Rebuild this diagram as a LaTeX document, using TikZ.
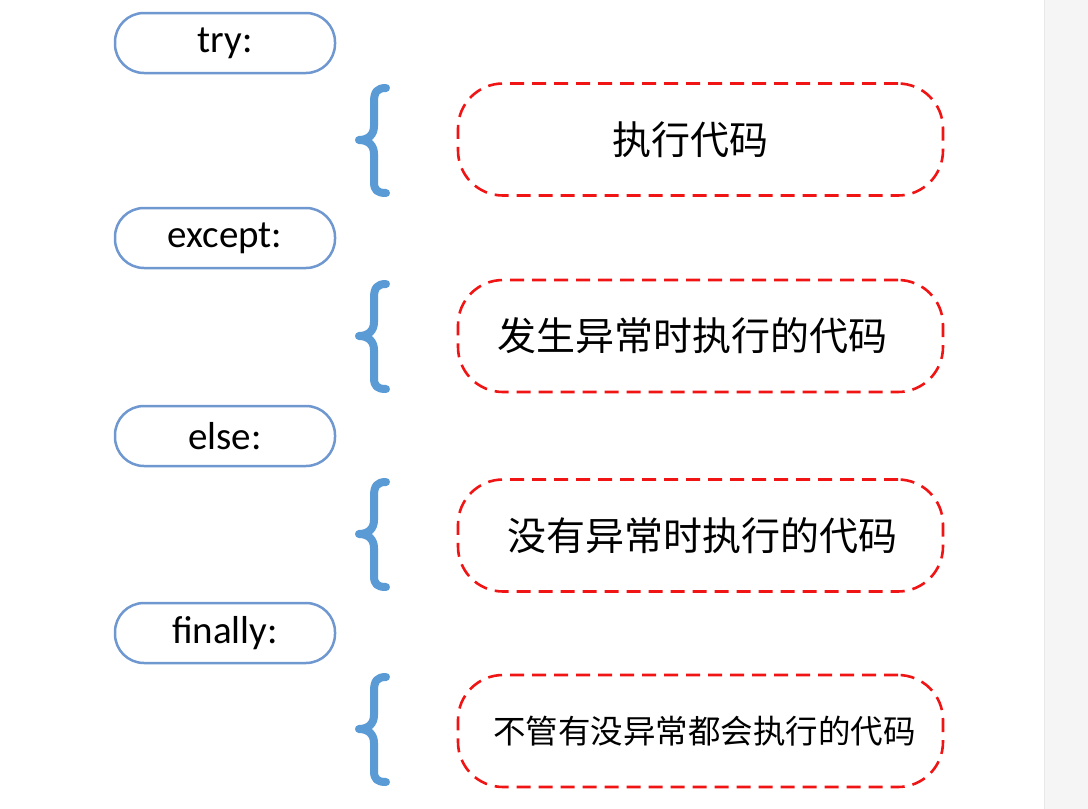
\documentclass[tikz,border=0pt]{standalone}
\usepackage{fontspec}
\setmainfont{Carlito}
\newfontfamily\cjk{Noto Sans CJK SC}
\definecolor{pillblue}{RGB}{112,152,208}
\definecolor{braceblue}{RGB}{91,155,213}
\definecolor{dashred}{RGB}{240,20,20}
\definecolor{stripgray}{RGB}{245,245,245}
\definecolor{stripline}{RGB}{232,232,232}
\begin{document}
\begin{tikzpicture}[x=1pt,y=-1pt,
  pill/.style={draw=pillblue,line width=2.5pt,rounded corners=29pt,minimum width=220pt,minimum height=60pt,inner sep=0pt,font=\fontsize{39}{41}\selectfont,fill=white},
  codebox/.style={draw=dashred,line width=2.6pt,dash pattern=on 14pt off 8pt,rounded corners=45pt,minimum width=485pt,minimum height=112pt,inner sep=0pt},
  codetext/.style={inner sep=0pt,font=\cjk\fontsize{39}{41}\selectfont},
  bracestyle/.style={draw=braceblue,line width=8pt,line cap=round,line join=round}]
\useasboundingbox (0,0) rectangle (1088,809);
\fill[white] (0,0) rectangle (1088,809);
\fill[stripgray] (1044,0) rectangle (1088,809);
\draw[stripline,line width=1.2pt] (1044.5,0) -- (1044.5,809);

\node[pill] (try) at (225,43) {try:};
\node[pill] (except) at (225,238) {except:};
\node[pill] (else) at (225,436) {else:};
\node[pill] (finally) at (225,633) {finally:};

\node[codebox] (c1) at (700.5,139.5) {};
\node[codebox] (c2) at (700.5,336) {};
\node[codebox] (c3) at (700.5,535.5) {};
\node[codebox] (c4) at (700.5,731) {};

\node[codetext] (t1) at ([xshift=-10pt]c1.center) {执行代码};
\node[codetext] (t2) at ([xshift=-8pt]c2.center) {发生异常时执行的代码};
\node[codetext] (t3) at ([xshift=2pt]c3.center) {没有异常时执行的代码};
\node[codetext,font=\cjk\fontsize{32.5}{34}\selectfont] (t4) at ([xshift=4pt]c4.center) {不管有没异常都会执行的代码};

\foreach \cy in {140,336,534,729}{
  \draw[bracestyle] (386,\cy-52) .. controls (377,\cy-52) and (374,\cy-48) .. (374,\cy-38)
    -- (374,\cy-14) .. controls (374,\cy-5) and (368,\cy) .. (359,\cy)
    .. controls (368,\cy) and (374,\cy+5) .. (374,\cy+14)
    -- (374,\cy+42) .. controls (374,\cy+50) and (377,\cy+53) .. (386,\cy+53);
}
\end{tikzpicture}
\end{document}
